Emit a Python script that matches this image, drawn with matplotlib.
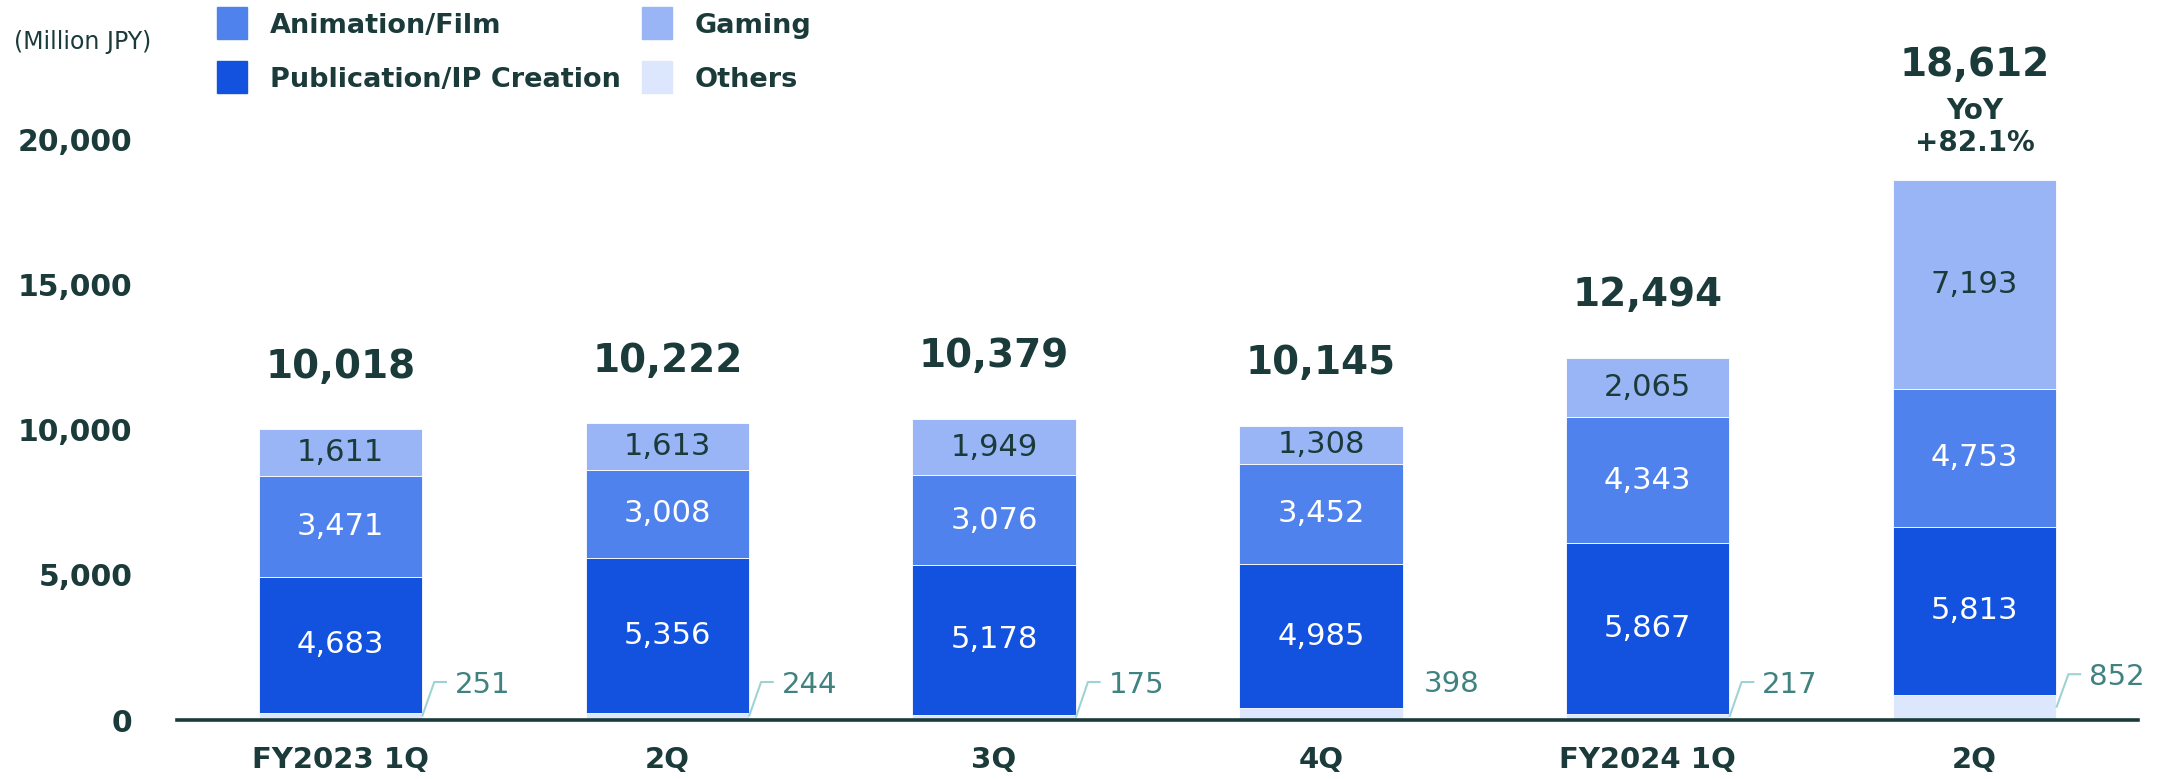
import matplotlib
matplotlib.use("Agg")
import matplotlib.pyplot as plt
from matplotlib.patches import Rectangle

# quarterly revenue by segment (million JPY)
quarters = ["FY2023 1Q", "2Q", "3Q", "4Q", "FY2024 1Q", "2Q"]
others = [251, 244, 175, 398, 217, 852]
publication = [4683, 5356, 5178, 4985, 5867, 5813]
animation = [3471, 3008, 3076, 3452, 4343, 4753]
gaming = [1611, 1613, 1949, 1308, 2065, 7193]
totals = [10018, 10222, 10379, 10145, 12494, 18612]
yoy_label = "YoY\n+82.1%"
yticks = [0, 5000, 10000, 15000, 20000]

DARK = "#1b3a3a"
C_PUB = "#1352df"
C_ANIM = "#5082ee"
C_GAME = "#9ab5f6"
C_OTH = "#dce6fc"
TEAL = "#3f8280"
LEADER = "#9fd3d3"

plt.rcParams["font.family"] = "DejaVu Sans"

fig = plt.figure(figsize=(21.64, 7.79), dpi=100)
ax = fig.add_axes([0.0818, 0.0757, 0.9062, 0.894])

x = list(range(len(quarters)))
w = 0.5
b1 = others
b2 = [o + p for o, p in zip(others, publication)]
b3 = [a + b for a, b in zip(b2, animation)]

ax.bar(x, others, w, color=C_OTH, edgecolor="white", linewidth=0.6)
ax.bar(x, publication, w, bottom=b1, color=C_PUB, edgecolor="white", linewidth=0.6)
ax.bar(x, animation, w, bottom=b2, color=C_ANIM, edgecolor="white", linewidth=0.6)
ax.bar(x, gaming, w, bottom=b3, color=C_GAME, edgecolor="white", linewidth=0.6)

# segment values inside the bars
for i in x:
    ax.text(i, b1[i] + publication[i] / 2, f"{publication[i]:,}", ha="center", va="center",
            color="white", fontsize=22)
    ax.text(i, b2[i] + animation[i] / 2, f"{animation[i]:,}", ha="center", va="center",
            color="white", fontsize=22)
    ax.text(i, b3[i] + gaming[i] / 2, f"{gaming[i]:,}", ha="center", va="center",
            color=DARK, fontsize=22)

# small "others" values with leader lines
for i in x:
    edge = i + w / 2
    if i == 3:
        ax.text(edge + 0.065, 1250, f"{others[i]:,}", ha="left", va="center",
                color=TEAL, fontsize=21)
        continue
    y_end = 1580 if i == 5 else 1310
    ax.plot([edge, edge + 0.037, edge + 0.076], [others[i] / 2, y_end, y_end],
            color=LEADER, lw=1.5, solid_capstyle="butt", clip_on=False)
    ax.text(edge + 0.10, y_end - 110, f"{others[i]:,}", ha="left", va="center",
            color=TEAL, fontsize=21)

# totals on top
for i in x:
    if i == 5:
        ax.annotate(f"{totals[i]:,}", (i, totals[i]), xytext=(0, 83), textcoords="offset points",
                    ha="center", va="center", fontsize=28, fontweight="bold", color=DARK,
                    annotation_clip=False)
        ax.annotate(yoy_label, (i, totals[i]), xytext=(0, 38), textcoords="offset points",
                    ha="center", va="center", fontsize=20, fontweight="bold", color=DARK,
                    linespacing=1.2, annotation_clip=False)
    else:
        ax.annotate(f"{totals[i]:,}", (i, totals[i]), xytext=(0, 45), textcoords="offset points",
                    ha="center", va="center", fontsize=28, fontweight="bold", color=DARK)

ax.set_xlim(-0.5, 5.5)
ax.set_ylim(0, 24000)
ax.set_yticks(yticks)
ax.set_yticklabels([f"{v:,}" for v in yticks])
ax.set_xticks(x)
ax.set_xticklabels(quarters)
ax.tick_params(axis="y", length=0, pad=32, labelsize=21.5, labelcolor=DARK)
ax.tick_params(axis="x", length=0, pad=19, labelsize=21, labelcolor=DARK)
for lbl in ax.get_xticklabels() + ax.get_yticklabels():
    lbl.set_fontweight("bold")
for s in ["top", "right", "left"]:
    ax.spines[s].set_visible(False)
ax.spines["bottom"].set_color(DARK)
ax.spines["bottom"].set_linewidth(2.6)

# unit label and legend
fig.text(14 / 2164, 1 - 42 / 779, "(Million JPY)", fontsize=17, color=DARK, va="center")
legend_items = [("Animation/Film", C_ANIM, 217, 23), ("Publication/IP Creation", C_PUB, 217, 77),
                ("Gaming", C_GAME, 642, 23), ("Others", C_OTH, 642, 77)]
for name, col, px, py in legend_items:
    fig.patches.append(Rectangle((px / 2164, 1 - (py + 16) / 779), 30 / 2164, 32 / 779,
                                 transform=fig.transFigure, color=col))
    fig.text((px + 53) / 2164, 1 - (py + 3) / 779, name, fontsize=19.5, fontweight="bold",
             color=DARK, va="center")

fig.savefig("out.png", dpi=100)
